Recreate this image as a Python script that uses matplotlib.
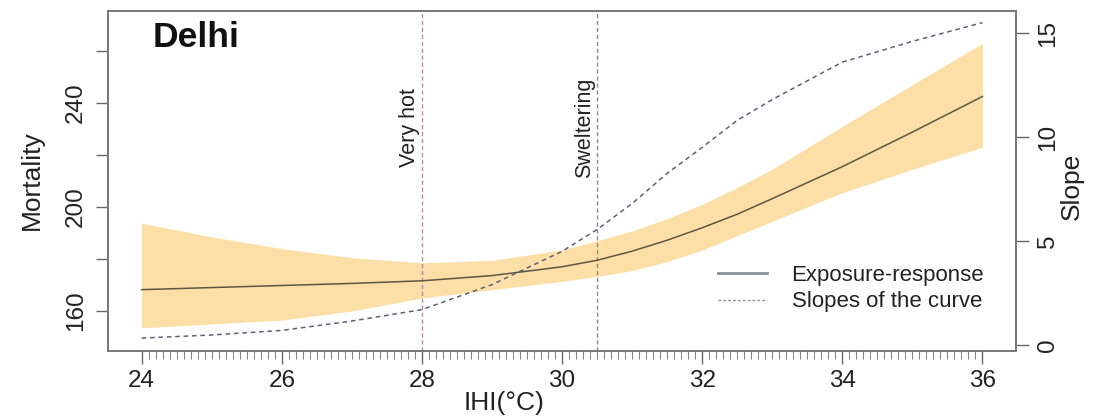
import matplotlib
matplotlib.use("Agg")
import matplotlib.pyplot as plt
import numpy as np
from matplotlib.lines import Line2D
from matplotlib.ticker import FixedLocator

plt.rcParams['font.family'] = ['Liberation Sans', 'DejaVu Sans']

ihi = [24, 25, 26, 27, 28, 29, 30, 30.5, 31, 31.5, 32, 32.5, 33, 34, 35, 36]
mortality = [168.2, 169.0, 169.8, 170.6, 171.6, 173.6, 177.0, 179.5, 183.0,
             187.2, 192.0, 197.2, 203.2, 215.5, 228.8, 242.5]
upper = [193.8, 188.5, 184.0, 180.5, 178.5, 179.5, 183.5, 187.0, 190.8,
         195.5, 201.0, 207.5, 214.5, 231.0, 247.0, 263.0]
lower = [153.5, 155.0, 156.5, 160.0, 165.0, 168.2, 171.4, 173.3, 175.5,
         179.0, 183.4, 189.0, 194.5, 205.5, 214.5, 223.0]
slope = [0.33, 0.48, 0.70, 1.15, 1.7, 2.9, 4.5, 5.55, 6.8, 8.25, 9.5,
         10.8, 11.8, 13.6, 14.6, 15.5]

thresholds = [28, 30.5]
threshold_labels = ["Very hot", "Sweltering"]
x_ticks = [24, 26, 28, 30, 32, 34, 36]
y_ticks = [160, 180, 200, 220, 240, 260]
y_labels = ["160", "", "200", "", "240", ""]
slope_ticks = [0, 5, 10, 15]

fig = plt.figure(figsize=(10.94, 4.17), dpi=100)
ax = fig.add_axes([108/1094, 66/417, 908/1094, 340/417])
ax2 = ax.twinx()

ax.fill_between(ihi, lower, upper, color='#FCDFA6', lw=0, zorder=1)
ax.plot(ihi, mortality, color='#5e5644', lw=1.1, zorder=3)
ax2.plot(ihi, slope, color='#5a6274', lw=1.1, ls=(0, (3, 2.5)), zorder=3)

line_cols = ['#b8909c', '#8a8a8a']
for xv, lab, c in zip(thresholds, threshold_labels, line_cols):
    ax.axvline(xv, color=c, lw=1, ls=(0, (3, 2)), zorder=2)
    ax.text(xv - 0.18, 230.5, lab, rotation=90, ha='center', va='center',
            fontsize=15.5, color='#222222')

ax.set_xlim(23.52, 36.48)
ax.set_ylim(144.6, 275.4)
ax2.set_ylim(-0.29, 16.06)

ax.set_xticks(x_ticks)
ax.xaxis.set_minor_locator(FixedLocator(np.arange(24, 36.001, 0.1)))
ax.set_yticks(y_ticks)
ax.set_yticklabels(y_labels, rotation=90, va='center')
ax2.set_yticks(slope_ticks)
ax2.set_yticklabels([str(v) for v in slope_ticks], rotation=90, va='center')

for a in (ax, ax2):
    for s in a.spines.values():
        s.set_color('#777777')
        s.set_linewidth(1.2)
ax.tick_params(axis='x', which='major', length=9, width=1, color='#666666',
               labelsize=17.5, pad=5, labelcolor='#222222')
ax.tick_params(axis='x', which='minor', length=6, width=0.8, color='#888888')
ax.tick_params(axis='y', length=9, width=1, color='#666666', labelsize=17.5,
               pad=6, labelcolor='#222222')
ax2.tick_params(axis='y', length=9, width=1, color='#666666', labelsize=17.5,
                pad=6, labelcolor='#222222')

ax.text(24.16, 265.2, "Delhi", fontsize=25.5, fontweight='bold', ha='left',
        va='center', color='#111111')

fig.text(504/1094, 1 - 403/417, "IHI(°C)", fontsize=19, ha='center',
         va='center', color='#222222')
fig.text(32/1094, 1 - 180/417, "Mortality", fontsize=19, rotation=90,
         ha='center', va='center', color='#222222')
fig.text(1072/1094, 1 - 186/417, "Slope", fontsize=19, rotation=90,
         ha='center', va='center', color='#222222')

handles = [Line2D([], [], color='#8a8f99', lw=2),
           Line2D([], [], color='#8a8f99', lw=1, ls=(0, (2, 1.5)))]
ax2.legend(handles, ["Exposure-response", "Slopes of the curve"],
           loc='lower right', bbox_to_anchor=(0.987, 0.055), frameon=False,
           fontsize=16, handlelength=2.2, handletextpad=1.1,
           labelspacing=0.25, labelcolor='#222222')

fig.savefig("out.png", dpi=100)
